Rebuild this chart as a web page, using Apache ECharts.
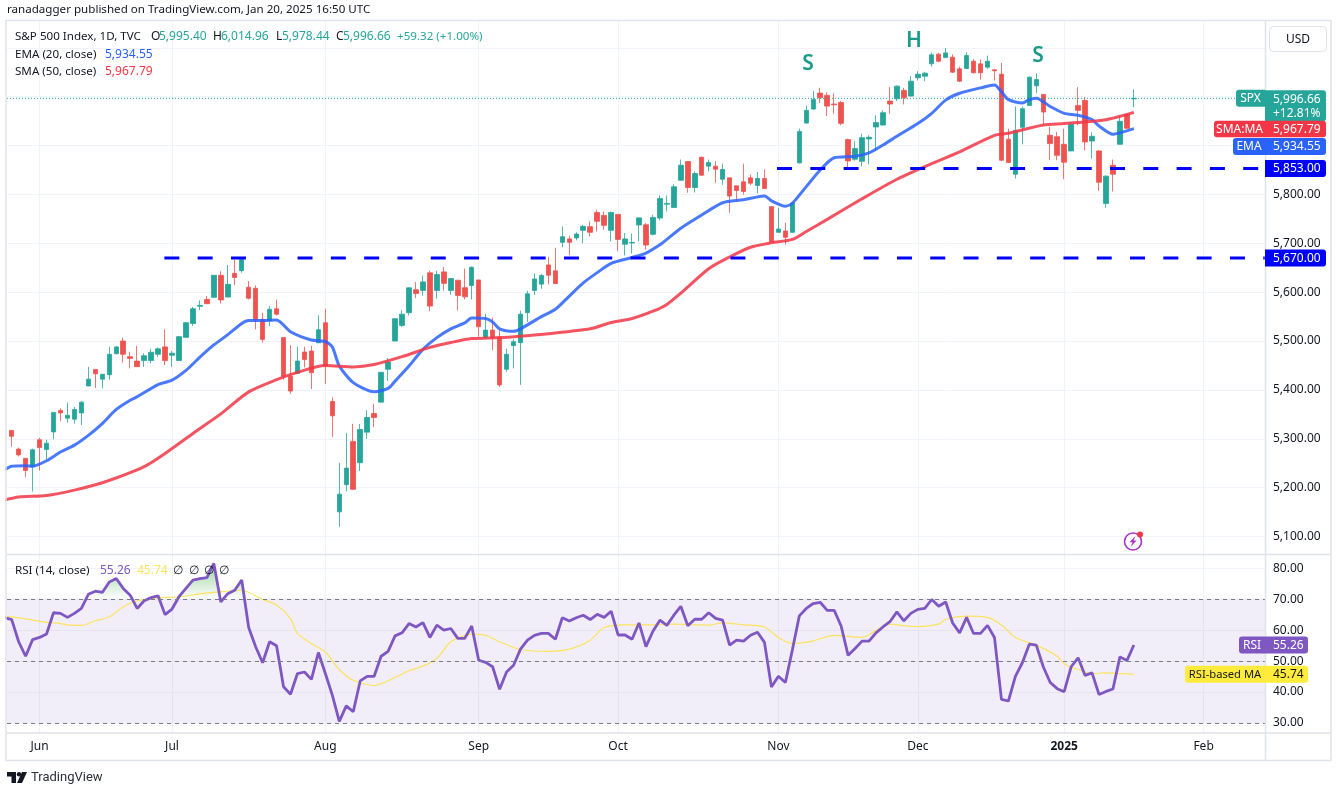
<!DOCTYPE html>
<html><head><meta charset="utf-8"><title>S&P 500 Index</title>
<script src="https://cdn.jsdelivr.net/npm/echarts@6/dist/echarts.min.js"></script>
<style>html,body{margin:0;padding:0;background:#fff}#c{width:1338px;height:791px}</style></head>
<body><div id="c"></div>
<script>
// Trading-day index 0 = 2024-05-28; month ticks sit on the first session of each month
const monthTicks = [4, 23, 45, 67, 87, 110, 130, 151, 171];
const monthLabels = ['Jun', 'Jul', 'Aug', 'Sep', 'Oct', 'Nov', 'Dec', '2025', 'Feb'];
const priceTicks = [5100, 5200, 5300, 5400, 5500, 5600, 5700, 5800, 5900, 6000, 6100];
const priceLabelTicks = [5100, 5200, 5300, 5400, 5500, 5600, 5700, 5800];
const rsiTicks = [30, 40, 50, 60, 70, 80];
const levels = { upper: 5853, lower: 5670 };
const lastClose = 5996.66, lastSma = 5967.79, lastEma = 5934.55, lastRsi = 55.26, lastRsiMa = 45.74;

// open, close, low, high
const candles = [
[5317,5305,5284,5317],[5279,5267,5264,5282],[5260,5235,5222,5260],[5243,5277.5,5192,5280],[5298,5282,5235,5302],
[5278,5291,5257,5298],[5314,5354,5299,5354],[5358,5353,5336,5362],[5342,5348,5333,5374],[5340,5360,5331,5365],
[5353,5375,5328,5377],[5408,5422,5408,5447],[5442,5433,5404,5442],[5422,5432,5403,5432],[5431,5473,5421,5488],
[5474,5488,5473,5490],[5500,5473,5456,5507],[5468,5464.5,5444,5478],[5459,5447.5,5447,5490],[5460,5470,5447,5475],
[5460,5477,5454,5484],[5473,5484,5468,5487],[5488,5460,5451,5524],[5471,5475,5447,5480],[5460,5509,5460,5510],
[5507.5,5537.5,5507,5539],[5536,5566,5531,5570],[5571,5573,5563.5,5583],[5585,5576.4,5575.8,5592],[5589.4,5634.5,5589,5635],
[5634.5,5584,5577,5642.7],[5590,5616,5590,5655.6],[5638.6,5630,5614.7,5667],[5644,5667,5640,5668.6],[5610,5587.4,5585,5623],
[5608,5543,5524,5614],[5544.4,5503.4,5496.6,5558],[5541.6,5565,5530.7,5571.7],[5566,5555,5552.6,5585],[5507,5428,5420.8,5508.2],
[5428,5397.6,5392,5491.8],[5433.8,5459,5432.4,5488.4],[5477.5,5462.4,5446,5488.4],[5479.5,5435,5402,5490.4],[5496.6,5523.2,5495.2,5552.6],
[5537.5,5449,5412,5566],[5376.4,5347,5304,5384.6],[5150.5,5186.7,5119.8,5250.8],[5206,5240,5192.6,5312],[5294.6,5196.6,5195.3,5330.6],
[5251,5319,5234,5330],[5313.6,5343.5,5300,5358.5],[5351.7,5343.5,5323.8,5371.4],[5375,5436,5375,5437],[5442.3,5457,5418.5,5465.4],
[5500,5545.7,5500,5547],[5532,5555,5529,5563],[5558,5609,5552.5,5610],[5605,5597.4,5588,5621],[5603.5,5621,5593,5634],
[5639.5,5571.5,5561,5644],[5603.5,5636,5587,5644],[5641.5,5618,5603.5,5651.7],[5603.5,5628,5594.6,5629.3],[5624.5,5593.3,5562.7,5624.5],
[5609,5590.5,5585,5648.3],[5613.7,5651,5585,5652.4],[5625,5529.3,5509,5625],[5507,5522.5,5507,5556],[5522.5,5507,5481.7,5547.7],
[5507,5410.3,5406,5524],[5442.3,5473,5437,5484.5],[5490.6,5498.7,5444,5503.5],[5496.7,5555,5410.3,5562],[5558,5596.7,5539,5602.8],
[5603.5,5627,5594.6,5638],[5616.4,5634,5607,5637.5],[5655.8,5634.7,5615.7,5672],[5643.6,5617.7,5617,5691],[5702,5713.6,5692,5734.7],
[5709,5702,5675.5,5715.7],[5711,5719,5706,5722.5],[5726.5,5734.7,5700,5738],[5734,5722.5,5714,5745],[5763,5745,5724.5,5768.7],
[5757,5736.7,5728,5765],[5726.5,5763,5704,5765],[5759,5708,5683.7,5759],[5698,5709,5675,5721],[5700.7,5701.5,5679,5719.7],
[5737.4,5752,5704,5753.7],[5738,5696.6,5687,5741.5],[5718.4,5753,5716,5758.5],[5751.7,5791.8,5747,5798],[5780,5781.6,5765.3,5798],
[5773.4,5815.6,5773,5821],[5829,5859.8,5827.8,5871.4],[5867.3,5814.2,5803.4,5867.3],[5814.2,5842.8,5804,5847],[5876,5839.4,5838.7,5877.5],
[5857.8,5865.2,5847,5871.4],[5857.8,5851.6,5823.8,5868],[5831,5851,5819.7,5863],[5834,5796.6,5762.6,5834],[5817.6,5808,5785,5817.6],
[5825.8,5806,5800,5863],[5834,5823,5819,5840.8],[5818.3,5832.6,5802,5846],[5832.6,5812,5812,5851],[5775,5702.7,5701.4,5775],
[5722.4,5729.2,5721.8,5772.8],[5725.2,5712.2,5697.3,5742],[5722.4,5782.3,5721.8,5783.6],[5864.6,5929,5863.2,5934.6],[5946,5972,5944.8,5982.2],
[5974.7,5994.4,5973.4,6011.4],[6007.4,5997.8,5987,6018.2],[6002.6,5980.8,5960.4,6008.8],[5985,5983.6,5965.2,6007.4],[5988.3,5945.5,5941.4,5991],
[5912.2,5868.6,5854.4,5914.2],[5872,5893.8,5868.6,5908.8],[5868,5916.2,5857.8,5924.4],[5913.5,5917,5861.8,5921],[5938,5947,5889,5961.8],
[5942,5967.2,5940.7,5972],[5991,5985,5965,6019.6],[5995.8,6021.6,5991,6023],[6012.8,5997.8,5984.2,6018.2],[6001.2,6031.8,6000.6,6042],
[6038.6,6046,6033.2,6052.2],[6042,6048.2,6031.8,6051],[6067.2,6085.6,6061.8,6090.3],[6087,6072.6,6070.6,6089.6],[6080,6089.6,6078.8,6099.8],
[6080.8,6050.2,6048.2,6086.2],[6057,6031.8,6029.8,6061.8],[6057.7,6084.2,6056.4,6091],[6072.6,6049,6047.5,6076.8],[6067.2,6049,6034.6,6076],
[6060.4,6072.6,6057,6084.2],[6055,6053,6033,6057],[6046,5870,5868,6069.2],[5912.8,5865.2,5865,5934.6],[5841.4,5931.2,5832.6,5980],
[5937.3,5975.4,5902.6,5980],[5982.2,6040,5981.5,6041.4],[6022.3,6035.2,6007.4,6048],[6004.6,5968.6,5942.8,6004.6],[5921,5904,5870,5938],
[5918,5880,5870,5928],[5902.6,5866,5831.2,5934.6],[5889,5943.4,5888.4,5948.2],[5982.2,5972,5941.4,6019.6],[5992.4,5907.4,5890.4,5999.2],
[5909.4,5919,5873.4,5927],[5889,5825,5807.4,5890.4],[5781.6,5837.4,5772.8,5838.7],[5859.8,5841.4,5806,5871.4],[5902.6,5949.6,5902.6,5959.8],
[5963.2,5935.3,5935.3,5964],[5995.4,5996.66,5978.44,6014.96]
];

// [session index, value]
const ema20 = [[-1,5237],[0,5244],[2,5245],[3,5244],[5,5255],[7,5273],[9,5287],[11,5307],[13,5331],[15,5360],[17,5379],[18,5386],[21,5411],[23,5420],[25,5440],[27,5467],[29,5492],[31,5513],[33,5536],[34,5542],[36,5542],[38,5543],[40,5519],[43,5502],[45,5499],[46,5488],[47,5449],[49,5415],[52,5396],[54,5403],[55,5418],[57,5449],[59,5483],[61,5507],[63,5525],[65,5537],[66,5547],[68,5546],[69,5539],[70,5525],[72,5520],[73,5525],[76,5550],[78,5565],[80,5592],[82,5619],[84,5640],[86,5659],[89,5671],[91,5680],[93,5697],[94,5708],[96,5731],[99,5758],[102,5783],[105,5789],[108,5797],[109,5787],[111,5776],[112,5782],[114,5816],[116,5850],[118,5875],[121,5878],[123,5885],[125,5901],[127,5919],[130,5945],[132,5966],[134,5993],[136,6007],[139,6018],[141,6024],[142,6010],[143,5994],[145,5987],[146,5994],[147,5997],[149,5980],[151,5966],[153,5962],[155,5953],[156,5940],[158,5923],[159,5926],[161,5934.55]];
const sma50 = [[-1,5175],[1,5181],[5,5184],[9,5195],[13,5210],[19,5243],[23,5280],[26,5311],[30,5351],[34,5396],[38,5421],[41,5436],[45,5450],[49,5447],[52,5452],[56,5468],[60,5487],[63,5497],[66,5505],[70,5507],[73,5510],[77,5515],[83,5525],[86,5538],[89,5546],[92,5561],[94,5575],[96,5598],[100,5648],[103,5672],[106,5692],[109,5701],[112,5708],[114,5724],[117,5749],[122,5791],[127,5831],[131,5857],[136,5887],[141,5921],[143,5925],[148,5942],[151,5945],[157,5953],[161,5967.79]];

// RSI: first value is session -1, just off the left edge
const rsiValues = [
64.1,63.5,56.3,51.6,57.0,57.7,58.8,65.7,65.5,64.2,65.5,67.1,71.7,72.7,72.3,75.7,76.8,73.6,71.4,67.1,69.6,70.6,71.2,65.1,66.9,70.9,73.6,76.3,76.8,77.1,81.7,69.2,71.9,73.0,76.3,60.9,54.7,49.5,56.3,55.0,41.7,39.3,46.0,46.5,44.1,52.8,46.0,39.0,30.5,35.5,33.6,43.6,45.1,45.1,51.6,53.2,58.2,59.2,62.2,61.1,62.5,57.7,61.7,60.1,60.6,
57.4,57.4,61.4,50.3,49.6,48.2,40.9,46.5,48.7,53.9,56.8,58.4,59,59,57.1,64.1,63,64.1,64.9,63.5,65.2,64.2,66.2,58.5,58.5,57.1,62.4,54.7,59.7,63.3,61.6,64.9,67.8,61.5,63.6,63.6,65.7,63.9,63.3,55.2,56.8,56.5,58.4,59.4,56.1,41.6,45.1,43.1,53.6,64.7,67.1,68.7,69.1,66.5,66.5,61.4,51.9,54.1,56.5,56.5,59.2,61.1,62.8,66,63.1,
65.5,66.8,67.1,70,67.8,69.2,62.4,59.2,64.2,59,59,61.6,57.7,37.6,37.1,45.1,49.5,55.5,55.2,48.2,43.1,41.1,40.1,48.2,51.1,45.4,46.2,39.2,40.2,41,51.4,50.2,55.26];
const rsiMa = [[-1,64.6],[1,64.1],[3,63.3],[5,62.6],[7,62.2],[8,61.8],[10,61.6],[12,63.1],[14,64.4],[16,67.6],[18,69.6],[21,70.5],[24,70.9],[27,71.8],[29,72.3],[33,73],[36,70],[38,68.2],[40,63.8],[41,59],[43,55.7],[45,53],[47,47.3],[49,43.8],[52,42.1],[55,44.7],[57,46.9],[59,48.4],[61,50.9],[63,56.3],[66,58.8],[68,58.4],[70,56.3],[73,53.8],[77,53.2],[80,53.9],[83,56.8],[85,60.9],[88,61.8],[92,61.8],[95,62],[100,61.7],[102,62.4],[105,61.8],[108,61.1],[110,57.7],[112,55.7],[115,56.6],[118,58.4],[122,57.7],[124,60],[126,62],[128,61.5],[130,61.2],[133,62],[134,63.6],[137,64.6],[140,64.2],[142,61.7],[144,57.7],[147,55.2],[150,51.6],[151,49.2],[153,47.3],[155,46],[157,46.2],[159,46],[161,45.74]];

const PAD_L = 7, PAD_R = 1265, STEP = 6.97, X0 = 11.7;
const xMin = (PAD_L - X0) / STEP, xMax = (PAD_R - X0) / STEP;
const FONT = '"Noto Sans", sans-serif';
const UP = '#26a69a', DOWN = '#ef5350', GRID = '#f0f3fa', BORDER = '#e0e3eb', TXT = '#131722';
const fmt = v => v.toLocaleString('en-US', { minimumFractionDigits: 2, maximumFractionDigits: 2 });

const xAxisBase = {
  type: 'value', min: xMin, max: xMax, axisLine: { show: false },
  axisTick: { show: false, customValues: monthTicks },
  splitLine: { show: true, lineStyle: { color: GRID, width: 1 } }
};
const chart = echarts.init(document.getElementById('c'), null, { renderer: 'canvas' });
chart.setOption({
  animation: false, backgroundColor: '#fff', tooltip: { show: false },
  grid: [
    { left: PAD_L, width: PAD_R - PAD_L, top: 21, height: 533 },
    { left: PAD_L, width: PAD_R - PAD_L, top: 555, height: 177.5 }
  ],
  xAxis: [
    Object.assign({}, xAxisBase, { gridIndex: 0, axisLabel: { show: false } }),
    Object.assign({}, xAxisBase, {
      gridIndex: 1,
      axisLabel: {
        show: true, customValues: monthTicks, margin: 8.5, fontFamily: FONT, fontSize: 12, color: TXT,
        formatter: v => { const l = monthLabels[monthTicks.indexOf(v)] || ''; return l === '2025' ? '{b|' + l + '}' : l; },
        rich: { b: { fontWeight: 'bold', fontFamily: FONT, fontSize: 12, color: TXT } }
      }
    })
  ],
  yAxis: [
    {
      type: 'value', gridIndex: 0, position: 'right',
      min: 5700 - (554 - 243.3) / 0.4887, max: 5700 + (243.3 - 21) / 0.4887,
      axisLine: { show: false }, axisTick: { show: false, customValues: priceTicks },
      splitLine: { show: true, lineStyle: { color: GRID } },
      axisLabel: { customValues: priceLabelTicks, margin: 8, padding: [0, 0, 2, 0], fontFamily: FONT, fontSize: 12, color: TXT, formatter: fmt }
    },
    {
      type: 'value', gridIndex: 1, position: 'right',
      min: 30 - (732.5 - 722.9) / 3.085, max: 30 + (722.9 - 555) / 3.085,
      axisLine: { show: false }, axisTick: { show: false, customValues: rsiTicks },
      splitLine: { show: true, lineStyle: { color: GRID } },
      axisLabel: { customValues: rsiTicks, margin: 8, padding: [2, 0, 0, 0], fontFamily: FONT, fontSize: 12, color: TXT, formatter: fmt }
    }
  ],
  series: [
    {
      name: 'SPX', type: 'candlestick', xAxisIndex: 0, yAxisIndex: 0, barWidth: 5, clip: true,
      data: candles.map((c, i) => [i, c[0], c[1], c[2], c[3]]),
      encode: { x: 0, y: [1, 2, 3, 4] },
      itemStyle: { color: UP, color0: DOWN, borderColor: 'rgba(38,166,154,0.8)', borderColor0: 'rgba(239,83,80,0.8)', borderWidth: 1 }
    },
    { name: 'Last', type: 'line', xAxisIndex: 0, yAxisIndex: 0, symbol: 'none', silent: true, data: [[xMin, lastClose], [xMax, lastClose]], lineStyle: { color: UP, width: 1, type: [1, 2] } },
    { name: 'EMA 20', type: 'line', xAxisIndex: 0, yAxisIndex: 0, symbol: 'none', smooth: 0.25, data: ema20, lineStyle: { color: '#2962ff', width: 3, opacity: 0.85 } },
    { name: 'SMA 50', type: 'line', xAxisIndex: 0, yAxisIndex: 0, symbol: 'none', smooth: 0.25, data: sma50, lineStyle: { color: '#f23645', width: 3, opacity: 0.85 } },
    { name: 'Level 5853', type: 'line', xAxisIndex: 0, yAxisIndex: 0, symbol: 'none', data: [[109.8, levels.upper], [xMax, levels.upper]], lineStyle: { color: '#0000ff', width: 3, type: [15, 18.3] }, z: 5 },
    { name: 'Level 5670', type: 'line', xAxisIndex: 0, yAxisIndex: 0, symbol: 'none', data: [[21.9, levels.lower], [xMax, levels.lower]], lineStyle: { color: '#0000ff', width: 3, type: [15, 18.3] }, z: 5 },
    {
      name: 'RSI band', type: 'line', xAxisIndex: 1, yAxisIndex: 1, symbol: 'none', data: [], silent: true,
      markArea: { silent: true, itemStyle: { color: 'rgba(126,87,194,0.1)' }, data: [[{ yAxis: 30 }, { yAxis: 70 }]] },
      markLine: { silent: true, symbol: 'none', label: { show: false }, lineStyle: { color: '#787b86', type: [4, 4], width: 1 }, data: [{ yAxis: 70 }, { yAxis: 50 }, { yAxis: 30 }] }
    },
    {
      name: 'RSI overbought', type: 'line', xAxisIndex: 1, yAxisIndex: 1, symbol: 'none', silent: true,
      data: rsiValues.map((v, i) => [i - 1, Math.max(v, 70)]), lineStyle: { width: 0 },
      areaStyle: { origin: 70, opacity: 1, color: new echarts.graphic.LinearGradient(0, 0, 0, 1, [{ offset: 0, color: 'rgba(76,175,80,0.55)' }, { offset: 1, color: 'rgba(76,175,80,0)' }]) }
    },
    { name: 'RSI MA', type: 'line', xAxisIndex: 1, yAxisIndex: 1, symbol: 'none', smooth: 0.25, data: rsiMa, lineStyle: { color: '#fbe45c', width: 1.2 } },
    { name: 'RSI', type: 'line', xAxisIndex: 1, yAxisIndex: 1, symbol: 'none', data: rsiValues.map((v, i) => [i - 1, v]), lineStyle: { color: '#7e57c2', width: 2.8 } }
  ]
});

// Overlay text and pills, placed with the chart's own scales
const py = v => chart.convertToPixel({ yAxisIndex: 0 }, v);
const ry = v => chart.convertToPixel({ yAxisIndex: 1 }, v);
const g = [];
const DY = 1.5;
const text = (x, y, t, fill, size, extra) => g.push({ type: 'text', z: 30, silent: true, style: Object.assign({ x, y: y + DY, text: t, fill: fill || TXT, font: (size || 12) + 'px ' + FONT, align: 'left', verticalAlign: 'middle' }, extra || {}) });
const rect = (x, y, w, h, fill, r) => g.push({ type: 'rect', z: 25, silent: true, shape: { x, y, width: w, height: h, r: r || 0 }, style: { fill } });
const line = (x1, y1, x2, y2, c, w) => g.push({ type: 'line', z: 24, silent: true, shape: { x1, y1, x2, y2 }, style: { stroke: c, lineWidth: w || 1 } });

// frame
line(6, 20.5, 1331, 20.5, BORDER, 1.5); line(6, 20, 6, 761, BORDER, 1.5); line(1331, 20, 1331, 761, BORDER, 1.5); line(6, 760.5, 1331, 760.5, BORDER, 1.5);
line(7, 554.5, 1331, 554.5, BORDER, 1.5); line(7, 733, 1331, 733, BORDER, 1.5); line(1265.5, 21, 1265.5, 760, BORDER, 1.5);

// header
const NAME = 11.6;
text(7, 8, 'ranadagger published on TradingView.com, Jan 20, 2025 16:50 UTC', '#131722', NAME);
text(15, 35.5, 'S&P 500 Index, 1D, TVC', TXT, NAME);
text(151, 35.5, 'O', TXT); text(159, 35.5, '5,995.40', UP);
text(213, 35.5, 'H', TXT); text(221, 35.5, '6,014.96', UP);
text(276, 35.5, 'L', TXT); text(282, 35.5, '5,978.44', UP);
text(336, 35.5, 'C', TXT); text(343, 35.5, '5,996.66', UP);
text(397, 35.5, '+59.32 (+1.00%)', UP, NAME);
text(15, 53, 'EMA (20, close)', TXT, NAME); text(105, 53, fmt(lastEma), '#2962ff');
text(15, 70, 'SMA (50, close)', TXT, NAME); text(105, 70, fmt(lastSma), '#f23645');
text(15, 569.5, 'RSI (14, close)', TXT, NAME); text(100, 569.5, lastRsi.toFixed(2), '#7e57c2'); text(137, 569.5, lastRsiMa.toFixed(2), '#fbe45c');
[178, 194, 209, 224].forEach(x => text(x, 569.5, '∅', TXT, 12, { align: 'center' }));

// pattern letters
const HS = '#1a9a8a';
const LETTER = { align: 'center', font: '600 21px ' + FONT };
text(808, 63, 'S', HS, 20, LETTER);
text(914, 40, 'H', HS, 20, LETTER);
text(1038, 55, 'S', HS, 20, LETTER);

// USD button
g.push({ type: 'rect', z: 25, silent: true, shape: { x: 1269.5, y: 26.5, width: 57, height: 25, r: 4 }, style: { fill: '#fff', stroke: BORDER, lineWidth: 1 } });
text(1298, 38, 'USD', TXT, 12, { align: 'center' });

// price pills
function pill(xl, xr, yc, h, colour, name, value, tc, nameSize) {
  if (name) rect(xl, yc - h / 2, 1265 - xl, h, colour, [3, 0, 0, 3]);
  rect(1265, yc - h / 2, xr - 1265, h, colour, [0, 3, 3, 0]);
  line(1265.5, yc - h / 2, 1265.5, yc + h / 2, 'rgba(255,255,255,0.5)', 1);
  if (name) text(xl + (1265 - xl) / 2, yc - 1, name, tc || '#fff', nameSize || 12, { align: 'center' });
  text(1273, yc - 1, value, tc || '#fff', 12);
}
const yClose = py(lastClose);
rect(1236, yClose - 8.5, 29, 17, UP, [3, 0, 0, 3]);
text(1250.5, yClose - 1, 'SPX', '#fff', 12, { align: 'center' });
rect(1265, yClose - 8, 61, 31, UP, [0, 3, 3, 0]);
text(1273, yClose - 0.5, fmt(lastClose), '#fff', 12);
text(1273, yClose + 13.5, '+12.81%', '#fff', 12);
pill(1214, 1326, 129, 16.5, '#f23645', 'SMA:MA', fmt(lastSma));
pill(1233, 1326, 146.5, 17, '#2962ff', 'EMA', fmt(lastEma));
pill(1265, 1326, py(levels.upper), 17, '#0000ff', '', fmt(levels.upper));
pill(1265, 1326, py(levels.lower), 17, '#0000ff', '', fmt(levels.lower));
pill(1239, 1308, ry(lastRsi), 17, '#7e57c2', 'RSI', lastRsi.toFixed(2));
pill(1185, 1308, ry(lastRsiMa), 17, '#ffeb3b', 'RSI-based MA', lastRsiMa.toFixed(2), '#131722', 11.2);

// "bolt" badge
g.push({ type: 'circle', z: 25, silent: true, shape: { cx: 1133, cy: 541.5, r: 8.5 }, style: { fill: '#fff', stroke: '#a832c8', lineWidth: 1.6 } });
g.push({ type: 'polygon', z: 26, silent: true, shape: { points: [[1135.5, 536], [1129.5, 542.3], [1132.6, 542.3], [1130.5, 547], [1136.6, 540.5], [1133.6, 540.5]] }, style: { fill: '#a832c8' } });
g.push({ type: 'circle', z: 27, silent: true, shape: { cx: 1140, cy: 534.5, r: 3 }, style: { fill: '#f23645' } });

// TradingView mark
g.push({ type: 'polygon', z: 26, silent: true, shape: { points: [[7, 772], [16, 772], [16, 783], [11.5, 783], [11.5, 776.5], [7, 776.5]] }, style: { fill: '#131722' } });
g.push({ type: 'circle', z: 26, silent: true, shape: { cx: 19, cy: 774.2, r: 2.2 }, style: { fill: '#131722' } });
g.push({ type: 'polygon', z: 26, silent: true, shape: { points: [[22, 772], [27, 772], [22, 783], [17, 783]] }, style: { fill: '#131722' } });
g.push({ type: 'text', z: 30, silent: true, style: { x: 31, y: 778, text: 'TradingView', fill: '#2a2e39', font: '13px Roboto, sans-serif', align: 'left', verticalAlign: 'middle' } });

chart.setOption({ graphic: { elements: g } });
</script></body></html>
